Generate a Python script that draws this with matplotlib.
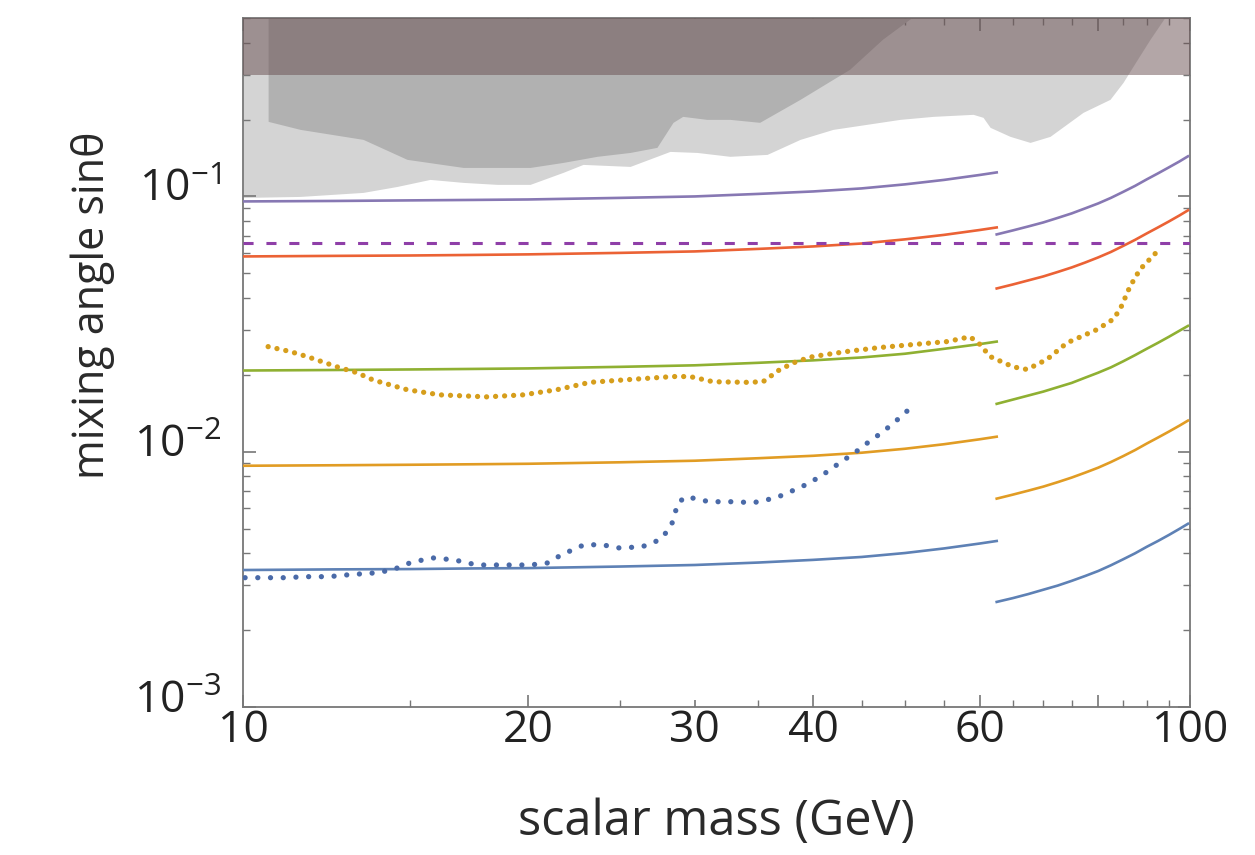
import matplotlib
matplotlib.use("Agg")
import matplotlib.pyplot as plt
import matplotlib.transforms as mtransforms
from matplotlib.ticker import FixedLocator, FixedFormatter, LogLocator, NullFormatter

# theory curves, below and above mh/2
mass_low = [10, 12.5, 15, 17.5, 20, 25, 30, 35, 40, 45, 50, 55, 60, 62.5]
mass_high = [62.5, 65, 67.5, 70, 72.5, 75, 77.5, 80, 82.5, 85, 87.5, 90, 92.5, 95, 97.5, 99.5]

purple_low = [0.0956, 0.0960, 0.0965, 0.0969, 0.0973, 0.0987, 0.1000, 0.1023, 0.1046, 0.1075, 0.1115, 0.1161, 0.1214, 0.1242]
red_low = [0.0582, 0.0585, 0.0587, 0.0590, 0.0593, 0.0601, 0.0609, 0.0623, 0.0637, 0.0654, 0.0679, 0.0707, 0.0739, 0.0756]
green_low = [0.0208, 0.0209, 0.0210, 0.0211, 0.0212, 0.0215, 0.0218, 0.0223, 0.0228, 0.0234, 0.0242, 0.0253, 0.0264, 0.0270]
orange_low = [0.00881, 0.00885, 0.00889, 0.00893, 0.00897, 0.00909, 0.00922, 0.00943, 0.00964, 0.00991, 0.01027, 0.01070, 0.01119, 0.01145]
blue_low = [0.00344, 0.00346, 0.00347, 0.00349, 0.00350, 0.00355, 0.00360, 0.00368, 0.00377, 0.00387, 0.00401, 0.00418, 0.00437, 0.00447]

purple_high = [0.0710, 0.0736, 0.0763, 0.0791, 0.0824, 0.0858, 0.0898, 0.0939, 0.0987, 0.1042, 0.1100, 0.1166, 0.1231, 0.1300, 0.1372, 0.1436]
red_high = [0.0436, 0.0452, 0.0469, 0.0486, 0.0506, 0.0527, 0.0551, 0.0577, 0.0606, 0.0640, 0.0676, 0.0716, 0.0756, 0.0798, 0.0843, 0.0882]
green_high = [0.0154, 0.0160, 0.0166, 0.0172, 0.0179, 0.0186, 0.0195, 0.0204, 0.0214, 0.0226, 0.0239, 0.0253, 0.0267, 0.0282, 0.0298, 0.0311]
orange_high = [0.00655, 0.00679, 0.00704, 0.00730, 0.00760, 0.00792, 0.00828, 0.00866, 0.00911, 0.00961, 0.01015, 0.01076, 0.01136, 0.01199, 0.01266, 0.01324]
blue_high = [0.00258, 0.00267, 0.00277, 0.00288, 0.00299, 0.00312, 0.00326, 0.00341, 0.00359, 0.00379, 0.00400, 0.00424, 0.00447, 0.00472, 0.00499, 0.00522]

dashed_level = 0.066

# dotted limits
gold_mass = [10.63, 11.21, 11.68, 12.57, 13.19, 13.72, 14.90, 16.14, 18.10, 19.76,
             21.46, 23.25, 25.20, 28.45, 29.65, 31.36, 34.06, 35.41, 36.90, 38.46,
             39.99, 43.43, 47.06, 51.01, 55.39, 58.58, 60.02, 61.50, 65.04, 67.29,
             70.63, 74.15, 79.77, 82.93, 84.36, 86.43, 88.56, 92.31]
gold_val = [0.0258, 0.0247, 0.0236, 0.0215, 0.0204, 0.0191, 0.0175, 0.0167, 0.0164, 0.0167,
            0.0175, 0.0187, 0.0191, 0.0197, 0.0197, 0.0188, 0.0187, 0.0188, 0.0210, 0.0226,
            0.0236, 0.0247, 0.0256, 0.0263, 0.0270, 0.0282, 0.0263, 0.0236, 0.0215, 0.0210,
            0.0230, 0.0267, 0.0301, 0.0330, 0.0361, 0.0444, 0.0518, 0.0608]

navy_mass = [10.05, 10.55, 11.08, 11.63, 12.32, 12.97, 13.75, 14.37, 15.01, 15.83,
             16.71, 17.66, 19.05, 20.10, 21.00, 21.67, 22.92, 23.94, 24.95, 26.38,
             27.56, 28.31, 28.80, 29.37, 31.06, 33.08, 34.56, 36.55, 38.94, 40.68,
             42.09, 44.40, 45.81, 47.40, 49.52, 51.37]
navy_val = [0.00321, 0.00321, 0.00321, 0.00324, 0.00324, 0.00330, 0.00335, 0.00344, 0.00367, 0.00384,
            0.00377, 0.00360, 0.00360, 0.00360, 0.00367, 0.00394, 0.00432, 0.00432, 0.00420, 0.00424,
            0.00452, 0.00508, 0.00631, 0.00667, 0.00637, 0.00637, 0.00631, 0.00660, 0.00730, 0.00798,
            0.00873, 0.0100, 0.01094, 0.01197, 0.01371, 0.01556]

# excluded regions (lower edges)
light_mass = [10.0, 11.49, 13.39, 14.54, 15.76, 17.08, 18.54, 20.10, 21.77, 22.86,
              25.63, 27.36, 28.24, 30.16, 32.67, 35.76, 38.75, 41.98, 49.41, 53.55,
              59.02, 60.46, 61.50, 64.56, 67.78, 71.15, 77.10, 82.33, 84.98, 87.06,
              90.74, 94.11]
light_edge = [0.0991, 0.1000, 0.1037, 0.1094, 0.1166, 0.1135, 0.1115, 0.1115, 0.1242, 0.1335,
              0.1311, 0.1436, 0.1501, 0.1487, 0.1436, 0.1461, 0.1673, 0.1831, 0.2004, 0.2059,
              0.2097, 0.2041, 0.1865, 0.1719, 0.1628, 0.1719, 0.2135, 0.2401, 0.2799, 0.3234,
              0.4127, 0.5035]

dark_mass = [10.63, 11.49, 13.39, 14.90, 17.08, 20.10, 21.77, 23.65, 25.63, 27.36,
             28.45, 29.13, 30.88, 32.67, 35.12, 38.75, 41.98, 43.71, 47.34, 50.90]
dark_edge = [0.1968, 0.1831, 0.1673, 0.1397, 0.1299, 0.1299, 0.1359, 0.1436, 0.1487, 0.1557,
             0.1951, 0.2059, 0.2004, 0.2004, 0.1951, 0.2401, 0.2876, 0.3148, 0.4127, 0.5035]

band_low = 0.3
y_top = 0.5

plt.rcParams['font.family'] = ['Open Sans', 'DejaVu Sans']
plt.rcParams['mathtext.fontset'] = 'custom'
plt.rcParams['mathtext.rm'] = 'Open Sans'
plt.rcParams['mathtext.it'] = 'Open Sans:italic'

fig = plt.figure(figsize=(12.55, 8.55), dpi=100)
ax = fig.add_axes([243 / 1255, 1 - 707 / 855, 947 / 1255, 689 / 855])

ax.fill_between(light_mass, light_edge, y_top, color='#d4d4d4', lw=0, zorder=1)
ax.fill_between(dark_mass, dark_edge, y_top, color='#b1b1b1', lw=0, zorder=2)
ax.fill_between([10, 100], band_low, y_top, color='#684e50', alpha=0.5, lw=0, zorder=3)

curves = [
    (purple_low, purple_high, '#8778B3'),
    (red_low, red_high, '#EB6235'),
    (green_low, green_high, '#8FB032'),
    (orange_low, orange_high, '#E19C24'),
    (blue_low, blue_high, '#5E81B5'),
]
for low, high, col in curves:
    ax.plot(mass_low, low, color=col, lw=1.9, zorder=4)
    ax.plot(mass_high, high, color=col, lw=1.9, zorder=4)

ax.axhline(dashed_level, color='#8f3fa8', lw=2.2, dashes=(3.3, 4.2), zorder=5)

ax.plot(gold_mass, gold_val, color='#d69e1c', lw=3.8, dashes=(0.01, 1.7),
        dash_capstyle='round', zorder=6)
ax.plot(navy_mass, navy_val, color='#4a6aa8', lw=3.8, dashes=(0.01, 2.4),
        dash_capstyle='round', zorder=6)

ax.set_xscale('log')
ax.set_yscale('log')
ax.set_xlim(10, 100)
ax.set_ylim(1e-3, y_top)

ax.xaxis.set_major_locator(FixedLocator([10, 20, 30, 40, 60, 80, 100]))
ax.xaxis.set_major_formatter(FixedFormatter(['10', '20', '30', '40', '60', '', '100']))
ax.xaxis.set_minor_locator(FixedLocator([15, 25, 35, 45, 50, 55, 65, 70, 75, 85, 90, 95]))
ax.xaxis.set_minor_formatter(NullFormatter())
ax.yaxis.set_major_locator(LogLocator(base=10, numticks=10))
ax.yaxis.set_minor_locator(LogLocator(base=10, subs=range(2, 10), numticks=20))
ax.yaxis.set_minor_formatter(NullFormatter())

ax.tick_params(which='both', direction='in', top=True, right=True, color='#777777')
ax.tick_params(which='major', length=9, width=1.2)
ax.tick_params(which='minor', length=5, width=1.0)
ax.tick_params(axis='x', which='major', labelsize=32, pad=1, labelcolor='#222222')
ax.tick_params(axis='y', which='major', labelsize=32, pad=16, labelcolor='#222222')
ax.xaxis.get_major_ticks()[2].tick1line.set_markersize(5)
ax.xaxis.get_major_ticks()[2].tick2line.set_markersize(5)

for sp in ax.spines.values():
    sp.set_color('#777777')
    sp.set_linewidth(1.3)

ax.set_xlabel('scalar mass (GeV)', fontsize=35, color='#2a2a2a', va='center')
ax.set_ylabel('mixing angle sinθ', fontsize=31, color='#2a2a2a', va='center')
ax.xaxis.set_label_coords(0.5, -0.167)
ax.yaxis.set_label_coords(-0.159, 0.583)

# y labels sit a little above their ticks, as in the original
shift = mtransforms.ScaledTranslation(0, 8 / 72, fig.dpi_scale_trans)
for lbl in ax.get_yticklabels():
    lbl.set_transform(lbl.get_transform() + shift)

fig.savefig('out.png', dpi=100)
